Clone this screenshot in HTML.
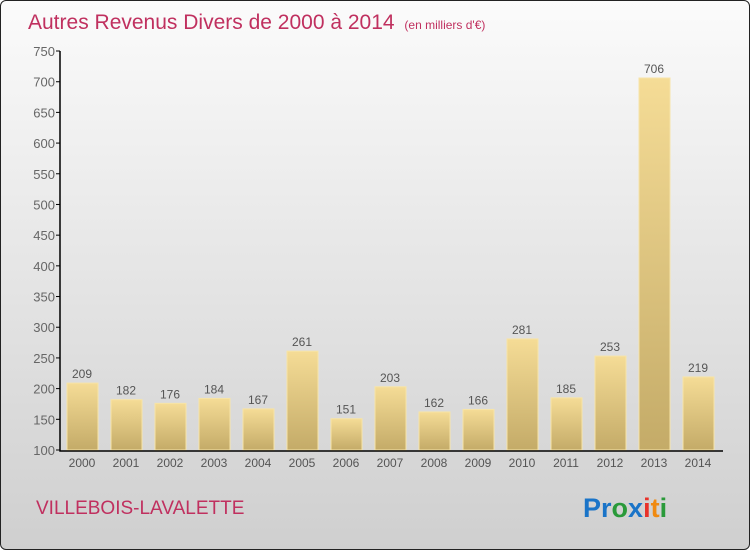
<!DOCTYPE html>
<html><head><meta charset="utf-8"><style>
body{margin:0}
#c{position:relative;width:748px;height:548px;border:1px solid #222;border-radius:6px;overflow:hidden;background:linear-gradient(#fbfbfb,#cfcfcf);font-family:"Liberation Sans",sans-serif}
</style></head><body>
<div id="c">
<svg width="748" height="548">
<defs><linearGradient id="bg" x1="0" y1="0" x2="0" y2="1"><stop offset="0" stop-color="#f5dc96"/><stop offset="1" stop-color="#c4ab68"/></linearGradient></defs>
<text x="27" y="28" font-size="21" fill="#c0305f">Autres Revenus Divers de 2000 à 2014 <tspan font-size="12" dx="4">(en milliers d'€)</tspan></text>
<g id="plot"></g>
<text x="35" y="513" font-size="19" fill="#c0305f">VILLEBOIS-LAVALETTE</text>
<text x="582" y="516" font-size="27" font-weight="bold"><tspan fill="#1a74c8">Pr</tspan><tspan fill="#2a9a3a">o</tspan><tspan fill="#1a74c8">x</tspan><tspan fill="#e8322a">i</tspan><tspan fill="#f08a10">t</tspan><tspan fill="#2a9a3a">i</tspan></text>
</svg>
</div>
<script>
const years=["2000","2001","2002","2003","2004","2005","2006","2007","2008","2009","2010","2011","2012","2013","2014"];
const values=[209,182,176,184,167,261,151,203,162,166,281,185,253,706,219];
const ticks=[100,150,200,250,300,350,400,450,500,550,600,650,700,750];
const NS="http://www.w3.org/2000/svg";
const g=document.getElementById('plot');
const y=v=>449-(v-100)*(399/650);
const x=i=>81+i*44;
function mk(t,a){const e=document.createElementNS(NS,t);for(const k in a)e.setAttribute(k,a[k]);g.appendChild(e);return e;}
ticks.forEach(t=>{
 const l=mk('line',{x1:55,x2:59,y1:y(t),y2:y(t),stroke:'#000'});
 
 
 const tx=mk('text',{x:54,y:y(t)+5,'text-anchor':'end','font-size':13,fill:'#666'});
 tx.textContent=t;
 
 
});
values.forEach((v,i)=>{
 const r=mk('rect',{x:x(i)-15,y:y(v),width:31,height:y(100)-y(v),fill:'url(#bg)',stroke:'#f7e4a8','stroke-width':1});
 
 
 const t=mk('text',{x:x(i),y:y(v)-5,'text-anchor':'middle','font-size':12,fill:'#555'});
 t.textContent=v;
 
 
 const yl=mk('text',{x:x(i),y:466,'text-anchor':'middle','font-size':12,fill:'#555'});
 yl.textContent=years[i];
 
 
});
const ax=mk('path',{d:`M59 ${y(750)} V450 H722`,stroke:'#000','stroke-width':1.5,fill:'none'});


</script>
</body></html>
